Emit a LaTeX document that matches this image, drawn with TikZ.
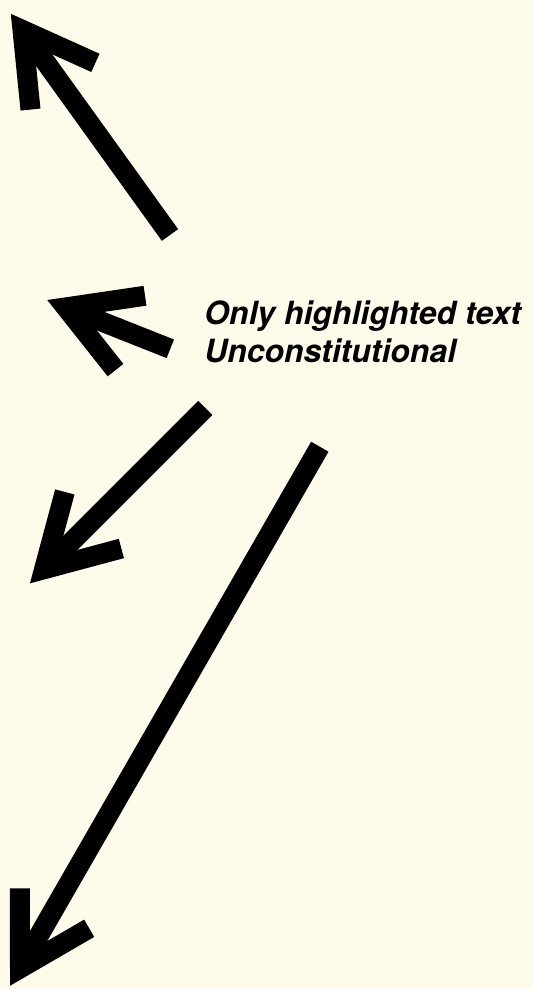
\documentclass[tikz,border=0pt]{standalone}
\usepackage{fontspec}
\setmainfont{TeX Gyre Heros}
\usetikzlibrary{calc}
\definecolor{paper}{RGB}{254,251,234}
\tikzset{
  fatline/.style={line width=0.4cm, line cap=butt},
  fathead/.style={line width=0.4cm, line cap=butt, line join=miter},
  quote/.style={anchor=base west, inner sep=0pt, font=\fontsize{18.2}{22}\selectfont\bfseries\itshape}
}
\begin{document}
\begin{tikzpicture}[x=0.02cm, y=-0.02cm]
    %paper
    \fill[paper] (0,0) rectangle (533,989);
    \useasboundingbox (0,0) rectangle (533,989);

    %tails and tips
    \coordinate (tailA) at (170,235);
    \coordinate (tipA) at (22.5,30);
    \coordinate (tailB) at (170.3,348.8);
    \coordinate (tipB) at (65.9,307.4);
    \coordinate (tailC) at (205.3,408);
    \coordinate (tipC) at (44.1,569.2);
    \coordinate (tailD) at (319.8,446.7);
    \coordinate (tipD) at (20,968.4);

    %shafts
    \draw[fatline] (tailA) -- (tipA);
    \draw[fatline] (tailB) -- (tipB);
    \draw[fatline] (tailC) -- (tipC);
    \draw[fatline] (tailD) -- (tipD);

    %heads
    \draw[fathead] ($(tipA)!1.6cm!30:(tailA)$) -- (tipA) -- ($(tipA)!1.6cm!-30:(tailA)$);
    \draw[fathead] ($(tipB)!1.6cm!30:(tailB)$) -- (tipB) -- ($(tipB)!1.6cm!-30:(tailB)$);
    \draw[fathead] ($(tipC)!1.6cm!30:(tailC)$) -- (tipC) -- ($(tipC)!1.6cm!-30:(tailC)$);
    \draw[fathead] ($(tipD)!1.6cm!30:(tailD)$) -- (tipD) -- ($(tipD)!1.6cm!-30:(tailD)$);

    %labels
    \node[quote] (only) at (204,325) {Only highlighted text};
    \node[quote] (unconst) at (204,362.7) {Unconstitutional};
\end{tikzpicture}
\end{document}
